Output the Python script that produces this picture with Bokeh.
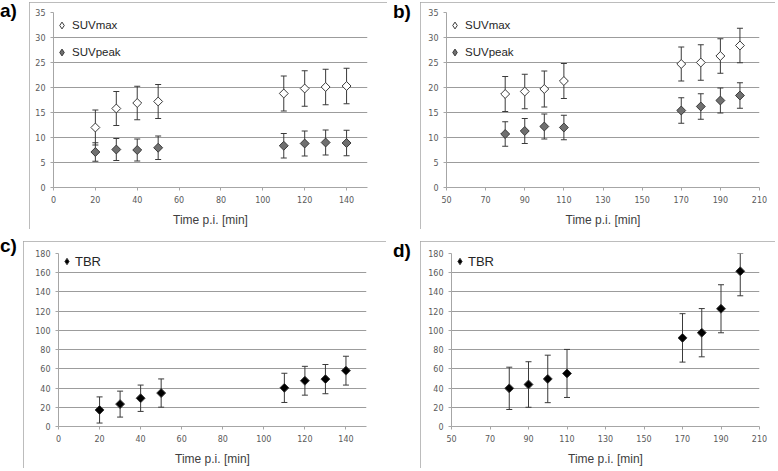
import numpy as np
from bokeh.plotting import figure
from bokeh.models import (ColumnDataSource, Whisker, TeeHead, FixedTicker, Legend,
                          LegendItem, Range1d, Div, Spacer)
from bokeh.layouts import column, row
from bokeh.embed import file_html
from bokeh.resources import INLINE

# ---------------- data ----------------
time_early = [20, 30, 40, 50, 110, 120, 130, 140]
time_late = [80, 90, 100, 110, 170, 180, 190, 200]

suvmax_a = [12.0, 15.8, 16.9, 17.2, 18.8, 19.8, 20.1, 20.3]
suvmax_a_sd = [3.5, 3.4, 3.35, 3.4, 3.5, 3.55, 3.55, 3.55]
suvpeak_a = [7.1, 7.6, 7.5, 7.95, 8.35, 8.8, 9.0, 8.9]
suvpeak_a_sd = [1.85, 2.2, 2.2, 2.35, 2.45, 2.5, 2.5, 2.55]

suvmax_b = [18.7, 19.2, 19.7, 21.3, 24.7, 25.0, 26.3, 28.4]
suvmax_b_sd = [3.5, 3.45, 3.6, 3.5, 3.4, 3.55, 3.45, 3.45]
suvpeak_b = [10.7, 11.3, 12.2, 12.0, 15.4, 16.2, 17.4, 18.4]
suvpeak_b_sd = [2.45, 2.5, 2.5, 2.45, 2.55, 2.55, 2.5, 2.55]

tbr_c = [17.2, 23.3, 29.4, 34.8, 40.2, 47.6, 49.3, 58.1]
tbr_c_sd = [13.6, 13.5, 13.7, 14.7, 15.2, 15.0, 15.2, 15.0]

tbr_d = [39.7, 43.7, 49.5, 55.2, 92.2, 97.6, 122.5, 161.5]
tbr_d_sd = [22.0, 23.7, 24.7, 25.0, 25.2, 25.1, 25.0, 25.5]

xticks_early = [0, 20, 40, 60, 80, 100, 120, 140]
xticks_late = [50, 70, 90, 110, 130, 150, 170, 190, 210]
yticks_suv = [0, 5, 10, 15, 20, 25, 30, 35]
yticks_tbr = [0, 20, 40, 60, 80, 100, 120, 140, 160, 180]

panel_tags = ["a)", "b)", "c)", "d)"]

FONT = "Liberation Sans"
TICK_FONT = "DejaVu Sans"
GRAY = "#a6a6a6"
DARK = "#3a3a3a"


def src(x, m, sd, ymax):
    m = np.array(m, dtype=float)
    sd = np.array(sd, dtype=float)
    return ColumnDataSource(dict(x=x, y=m, upper=np.minimum(m + sd, ymax), lower=m - sd))


def make_fig(w, h, xr, xt, yr, yt, mb):
    p = figure(width=w, height=h, x_range=Range1d(*xr), y_range=Range1d(*yr),
               output_backend="svg", toolbar_location=None,
               min_border_left=mb[0], min_border_right=mb[1],
               min_border_top=mb[2], min_border_bottom=mb[3],
               styles={"outline": "1px solid " + GRAY, "outline-offset": "-1px"})
    p.outline_line_color = None
    p.xgrid.visible = False
    p.ygrid.grid_line_color = "#9c9c9c"
    p.ygrid.grid_line_width = 1
    p.xaxis.ticker = FixedTicker(ticks=xt)
    p.yaxis.ticker = FixedTicker(ticks=yt)
    for ax in (p.xaxis[0], p.yaxis[0]):
        ax.axis_line_color = GRAY
        ax.major_tick_line_color = GRAY
        ax.major_tick_in = 0
        ax.major_tick_out = 3
        ax.minor_tick_line_color = None
        ax.major_label_text_font = TICK_FONT
        ax.major_label_text_font_size = "8px"
        ax.major_label_text_color = "#595959"
        ax.major_label_standoff = 5
    p.xaxis.axis_label = "Time p.i. [min]"
    p.xaxis.axis_label_text_font = FONT
    p.xaxis.axis_label_text_font_size = "12px"
    p.xaxis.axis_label_text_font_style = "normal"
    p.xaxis.axis_label_text_color = "#404040"
    p.xaxis.axis_label_standoff = 7
    return p


def tag_div(text, w, h, pad_left, shift_top):
    html = ('<div style="font-family:\'Liberation Sans\';font-size:19px;font-weight:bold;'
            'color:black;line-height:19px;padding-left:%dpx;position:relative;top:%dpx;">%s</div>'
            % (pad_left, shift_top, text))
    return Div(text=html, width=w, height=h, margin=0)


def add_series(p, s, fill):
    w = Whisker(base="x", upper="upper", lower="lower", source=s, line_color=DARK, line_width=1,
                upper_head=TeeHead(size=6, line_color=DARK, line_width=1),
                lower_head=TeeHead(size=6, line_color=DARK, line_width=1), level="underlay")
    p.add_layout(w)
    p.scatter("x", "y", source=s, marker="square", angle=np.pi / 4, size=6.3,
              fill_color=fill, line_color=DARK, line_width=1)
    # zero-size diamond renderer used only for the legend symbol
    return p.scatter("x", "y", source=s, marker="diamond", size=0,
                     fill_color=fill, line_color=DARK, line_width=1)


def add_legend(p, items, font_size, gw, gh, padding, label_h, spacing, standoff):
    lg = Legend(items=[LegendItem(label=l, renderers=[r]) for l, r in items],
                location="top_left", orientation="vertical", margin=0, padding=padding,
                border_line_color=None, background_fill_alpha=0,
                glyph_width=gw, glyph_height=gh, label_height=label_h,
                spacing=spacing, label_standoff=standoff,
                label_text_font=FONT, label_text_font_size=font_size,
                label_text_color="#262626")
    p.add_layout(lg)


BOX_H = 227

# panel a
pa = make_fig(358, BOX_H, (0, 150), xticks_early, (0, 35), yticks_suv, (24, 20, 10, 39))
r1 = add_series(pa, src(time_early, suvmax_a, suvmax_a_sd, 35), "white")
r2 = add_series(pa, src(time_early, suvpeak_a, suvpeak_a_sd, 35), "#707070")
add_legend(pa, [("SUVmax", r1), ("SUVpeak", r2)], "11.5px", 17, 26, 1, 26, 1, 2)

# panel b
pb = make_fig(355, BOX_H, (50, 210), xticks_late, (0, 35), yticks_suv, (26, 16, 10, 39))
r1 = add_series(pb, src(time_late, suvmax_b, suvmax_b_sd, 35), "white")
r2 = add_series(pb, src(time_late, suvpeak_b, suvpeak_b_sd, 35), "#707070")
add_legend(pb, [("SUVmax", r1), ("SUVpeak", r2)], "11.5px", 17, 26, 1, 26, 1, 2)

# panel c
pc = make_fig(363, BOX_H, (0, 150), xticks_early, (0, 180), yticks_tbr, (35, 20, 12, 37))
r = add_series(pc, src(time_early, tbr_c, tbr_c_sd, 180), "black")
add_legend(pc, [("TBR", r)], "13px", 17, 16, 1, 16, 0, 0)

# panel d
pd_ = make_fig(355, BOX_H, (50, 210), xticks_late, (0, 180), yticks_tbr, (31, 16, 12, 37))
r = add_series(pd_, src(time_late, tbr_d, tbr_d_sd, 180), "black")
add_legend(pd_, [("TBR", r)], "13px", 17, 16, 1, 16, 0, 0)

top = row(tag_div(panel_tags[0], 29, 30, 0, -1), pa, tag_div(panel_tags[1], 33, 30, 6, 0), pb)
bottom = row(tag_div(panel_tags[2], 23, 30, 0, -5), pc, tag_div(panel_tags[3], 34, 30, 7, 0), pd_)
layout = column(Spacer(height=2, margin=0), column(top, bottom, spacing=12))
open("out.html", "w").write(file_html(layout, INLINE))
